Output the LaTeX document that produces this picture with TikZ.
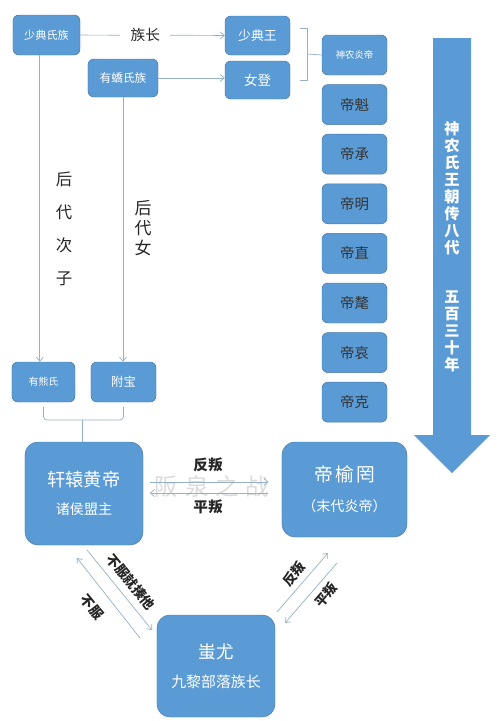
\documentclass[tikz,border=0pt]{standalone}
\usepackage{fontspec}
\setmainfont{Noto Sans CJK SC}
\usetikzlibrary{positioning,calc,arrows.meta}
\definecolor{boxblue}{RGB}{91,155,213}
\definecolor{boxedge}{RGB}{70,118,165}
\definecolor{linkgray}{RGB}{150,176,198}

\begin{document}
\begin{tikzpicture}[x=0.03cm, y=-0.03cm,
    box/.style={draw=boxedge, fill=boxblue, rounded corners=5pt, text=white, inner sep=0pt, align=center},
    smallbox/.style={box, minimum width=1.95cm, minimum height=1.2cm},
    bigbox/.style={box, rounded corners=11pt},
    link/.style={draw=linkgray, line width=0.6pt, -{Straight Barb[length=3.5pt, width=6pt]}},
    plainlink/.style={draw=linkgray, line width=0.6pt},
    lab/.style={font=\fontsize{12.5}{14}\selectfont\bfseries, text=black!85},
    dlab/.style={lab, inner sep=0pt, font=\fontsize{11.5}{13}\selectfont\bfseries},
    vlab/.style={align=center, inner sep=0pt, text=black!85},
    arrowtext/.style={align=center, inner sep=0pt, text=white, font=\fontsize{13}{14.5}\selectfont\bfseries},
]
\fill[white] (0,0) rectangle (500,721);
\useasboundingbox (0,0) rectangle (500,721);

% top row
\node[smallbox, minimum width=2.01cm, font=\fontsize{9.5}{11}\selectfont] (shaodian) at (46.5,35) {少典氏族};
\node[smallbox, minimum width=2.1cm, minimum height=1.14cm, font=\fontsize{10}{12}\selectfont] (youjiao) at (123,78) {有蟜氏族};
\node[smallbox, minimum height=1.17cm, font=\fontsize{11}{13}\selectfont] (shaodianwang) at (257.5,35.5) {少典王};
\node[smallbox, minimum height=1.14cm, font=\fontsize{11.5}{13}\selectfont] (nvdeng) at (257.5,80) {女登};

\draw[link] (shaodian) -- node[pos=0.45, fill=white, inner xsep=9pt, text=black!85, font=\fontsize{12.5}{14}\selectfont] (zuzhang) {族长} (shaodianwang);
\draw[link] (youjiao.east) -- (youjiao.east -| nvdeng.west);

% Shennong line of emperors
\node[smallbox, font=\fontsize{8}{10}\selectfont] (shennong) at (354.5,55) {神农炎帝};
\foreach \nm [count=\i] in {帝魁,帝承,帝明,帝直,帝氂,帝哀,帝克}
  \node[smallbox, text=black!80, font=\fontsize{12.3}{14}\selectfont] (di\i) at (354.5,{55+49.6*\i}) {\nm};

\draw[plainlink] (300,28) -| (307,80) -- (300,80);
\draw[plainlink] (307,54) -- (shennong.west);

% big arrow
\fill[boxblue] (433,38) -- (471,38) -- (471,435) -- (490,435) -- (452,473) -- (414,435) -- (433,435) -- cycle;
\node[arrowtext] (dynasty) at (452,188) {神\\农\\氏\\王\\朝\\传\\八\\代};
\node[arrowtext] (years) at (452,331) {五\\百\\三\\十\\年};

% descent
\node[smallbox, minimum width=1.89cm, font=\fontsize{8.5}{10}\selectfont] (youxiong) at (43.5,382) {有熊氏};
\node[smallbox, font=\fontsize{10.5}{12}\selectfont] (fubao) at (123.5,382) {附宝};

\draw[link] ([xshift=-0.2cm]shaodian.south) -- ([xshift=-0.2cm]shaodian.south |- youxiong.north);
\draw[link] (youjiao.south) -- (youjiao.south |- fubao.north);
\node[vlab, font=\fontsize{14}{28}\selectfont] (cizi) at (64,229) {后\\代\\次\\子};
\node[vlab, font=\fontsize{14.5}{17.4}\selectfont] (nv) at (143,228) {后\\代\\女};

% Huangdi
\node[bigbox, minimum width=3.54cm, minimum height=3.09cm, font=\fontsize{15.5}{24}\selectfont] (huangdi) at (84,493.5) {轩辕黄帝\\{\fontsize{12}{24}\selectfont 诸侯盟主}};

\coordinate (join) at (82,420);
\draw[plainlink, rounded corners=3pt] ([yshift=-0.15cm]youxiong.south) |- (join) -| ([yshift=-0.15cm]fubao.south);
\draw[plainlink] (join) -- (join |- huangdi.north);

% Yuwang
\node[bigbox, minimum width=3.75cm, minimum height=2.85cm, font=\fontsize{16}{25.5}\selectfont] (yuwang) at (344.5,489.5) {帝\hspace{2pt}榆\hspace{2pt}罔\\{\fontsize{12}{25.5}\selectfont （末代炎帝）}};

% battle of Banquan
\node[text=gray!28, font=\fontsize{20}{20}\selectfont] (banquan) at (212,487) {阪\hspace{6pt}泉\hspace{6pt}之\hspace{6pt}战};
\draw[link, shorten <=0.2cm, shorten >=0.4cm] (huangdi.east |- 0,482) -- (yuwang.west |- 0,482);
\draw[link, shorten <=0.4cm, shorten >=0.2cm] (yuwang.west |- 0,493) -- (huangdi.east |- 0,493);
\node[lab] (fanpan) at (208,465) {反叛};
\node[lab] (pingpan) at (208,507) {平叛};

% Chiyou
\node[bigbox, minimum width=3.54cm, minimum height=3.06cm, font=\fontsize{15}{24.6}\selectfont] (chiyou) at (216,666) {蚩尤\\{\fontsize{12.7}{24.6}\selectfont 九黎部落族长}};

\coordinate (hd1) at (87,550);
\coordinate (cy1) at (152,630);
\coordinate (cy2) at (140,638);
\coordinate (hd2) at (77,558);
\draw[link] (hd1) -- (cy1);
\draw[link] (cy2) -- (hd2);
\node[dlab, rotate=-51] (zou) at (131,582) {不服就揍他};
\node[dlab, rotate=-51] (bufu) at (92,607) {不服};

\coordinate (cy3) at (277,612);
\coordinate (yw1) at (328,553);
\coordinate (yw2) at (337,563);
\coordinate (cy4) at (285,623);
\draw[link] (cy3) -- (yw1);
\draw[link] (yw2) -- (cy4);
\node[dlab, rotate=49] (fanpan2) at (294,574) {反叛};
\node[dlab, rotate=49] (pingpan2) at (326,595) {平叛};
\end{tikzpicture}
\end{document}
